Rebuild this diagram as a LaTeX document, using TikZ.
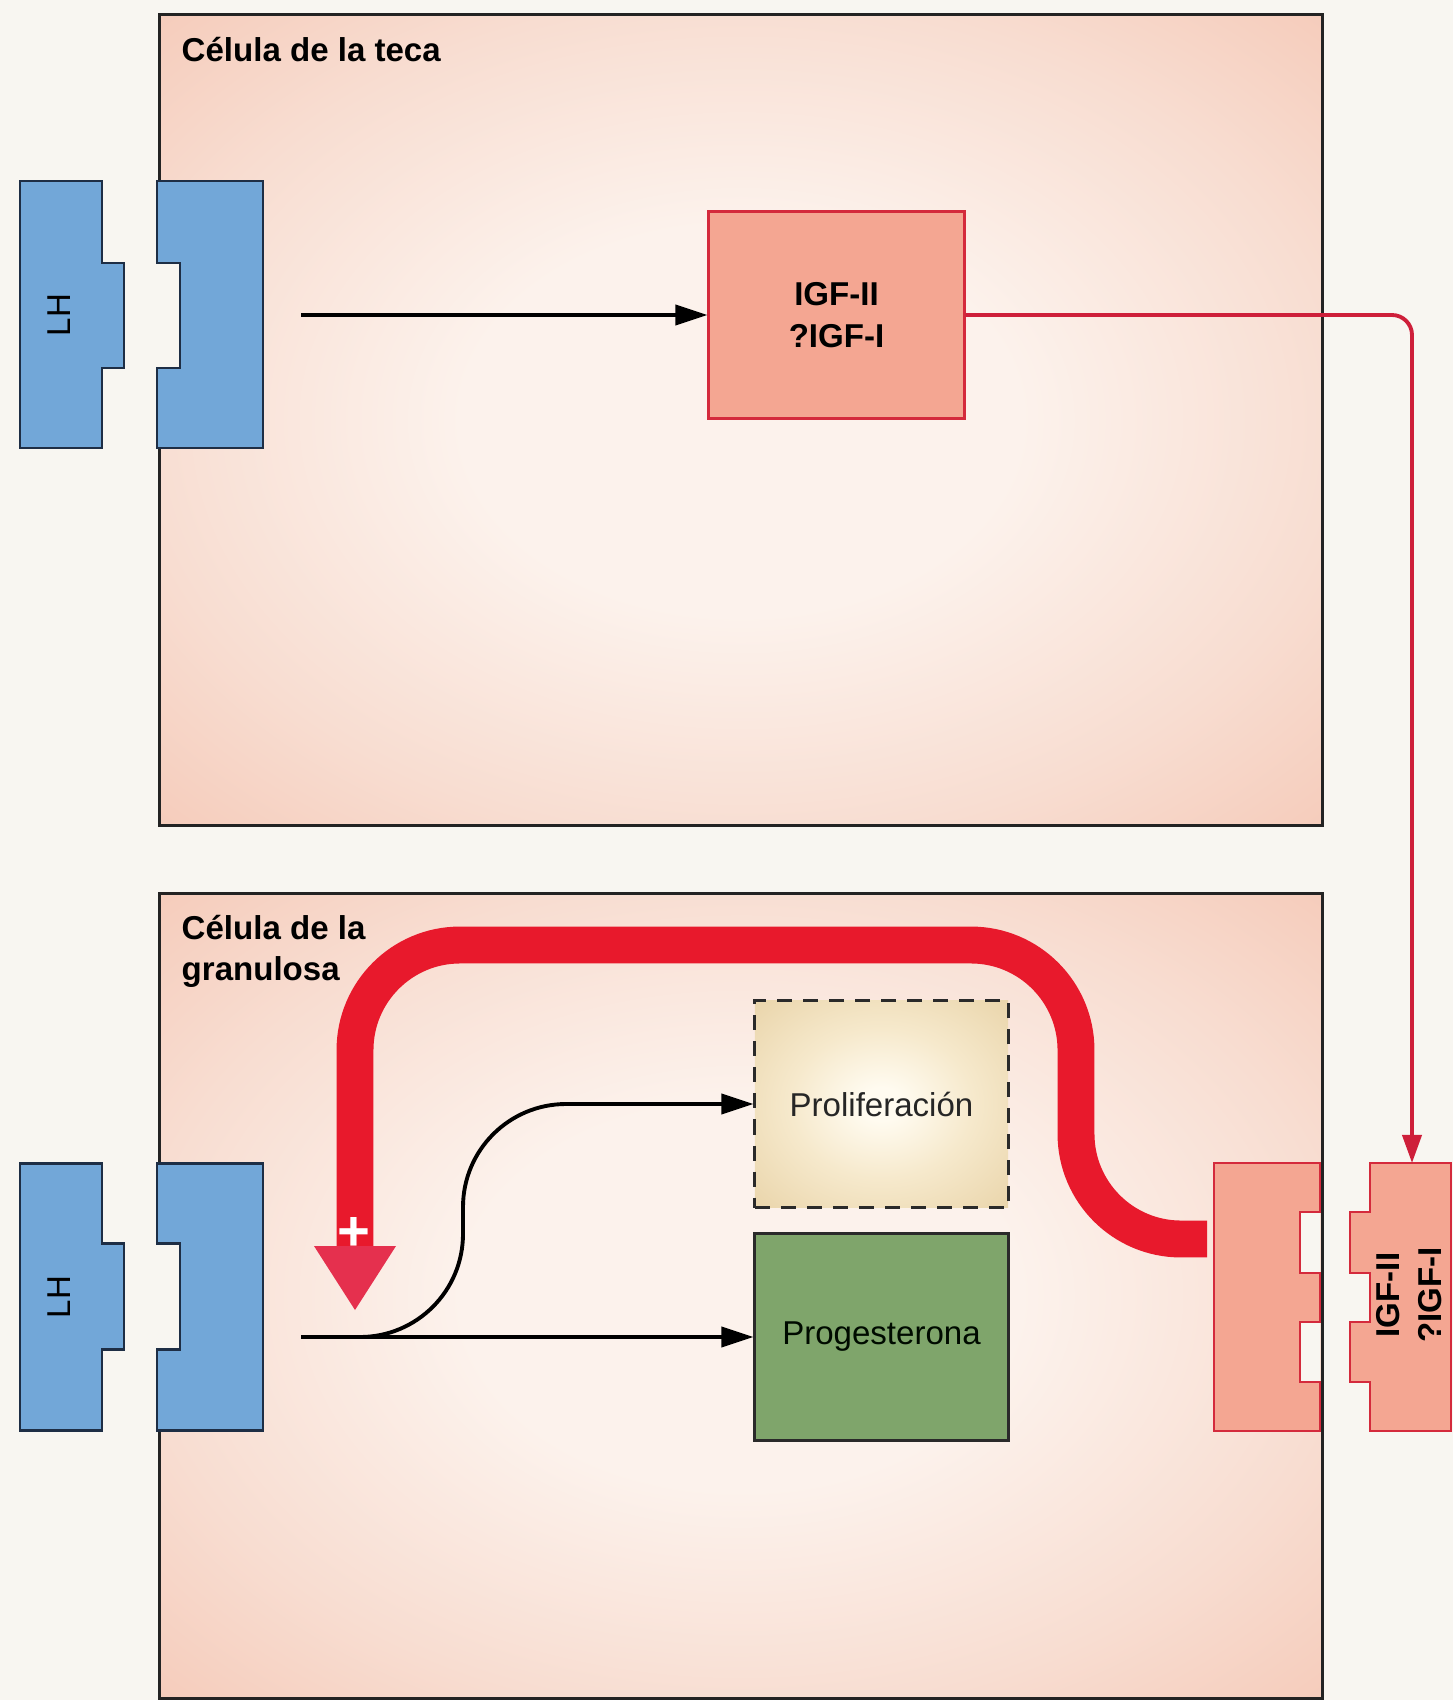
\documentclass[tikz,border=0pt]{standalone}
\usepackage{fontspec}
\setmainfont{Liberation Sans}
\usetikzlibrary{arrows.meta}
\definecolor{bg}{HTML}{F8F6F1}
\definecolor{cellin}{HTML}{FCF2EC}
\definecolor{cellmid}{HTML}{F8DDD1}
\definecolor{cellout}{HTML}{F4C4B1}
\definecolor{cellline}{HTML}{232323}
\definecolor{recblue}{HTML}{72A7D8}
\definecolor{recblueline}{HTML}{1E2E45}
\definecolor{salmon}{HTML}{F4A692}
\definecolor{salmonline}{HTML}{D42A3C}
\definecolor{thinred}{HTML}{CE1F3A}
\definecolor{bigred}{HTML}{E8192C}
\definecolor{bigredhead}{HTML}{E5304E}
\definecolor{progreen}{HTML}{7FA56B}
\definecolor{progline}{HTML}{2A2A2A}
\definecolor{prolifin}{HTML}{FFFBF0}
\definecolor{prolifmid}{HTML}{F6E9CC}
\definecolor{prolifout}{HTML}{E8D2A6}
\pgfdeclareradialshading{cellshade}{\pgfpointorigin}{color(0bp)=(cellin); color(12bp)=(cellin); color(26bp)=(cellmid); color(40bp)=(cellout); color(80bp)=(cellout)}
\pgfdeclareradialshading{prolifshade}{\pgfpointorigin}{color(0bp)=(prolifin); color(4bp)=(prolifin); color(18bp)=(prolifmid); color(38bp)=(prolifout); color(80bp)=(prolifout)}
\begin{document}
\begin{tikzpicture}[x=0.01cm,y=-0.01cm,
  every node/.style={font=\fontsize{9.4}{12}\selectfont},
  boldtext/.style={font=\fontsize{9.4}{12}\selectfont\bfseries},
  cellbox/.style={draw=cellline, line width=0.85pt, shade, shading=cellshade, inner sep=0pt, anchor=north west, minimum width=11.62cm},
  bluerec/.style={fill=recblue, draw=recblueline, line width=0.85pt},
  salmonrec/.style={fill=salmon, draw=salmonline, line width=0.7pt},
  igfbox/.style={fill=salmon, draw=salmonline, line width=0.85pt, align=center, boldtext, minimum width=2.55cm, minimum height=2.06cm},
  prolifbox/.style={draw=progline, dash pattern=on 0.15cm off 0.11cm, line width=0.85pt, shade, shading=prolifshade, minimum width=2.53cm, minimum height=2.07cm, text=black!85},
  progbox/.style={fill=progreen, draw=progline, line width=0.85pt, minimum width=2.53cm, minimum height=2.07cm, text=black!85!green!30!black},
  blackarrow/.style={draw=black, line width=1.1pt, -{Triangle[length=0.32cm,width=0.2cm]}},
  redarrow/.style={draw=thinred, line width=1.1pt, -{Triangle[length=0.28cm,width=0.19cm]}},
  bigarrow/.style={draw=bigred, line width=10.5pt},
]
\useasboundingbox (0,0) rectangle (1453,1700);
\fill[bg] (0,0) rectangle (1453,1700);

% cells
\node[cellbox, minimum height=8.11cm] (teca) at (158,13) {};
\node[cellbox, minimum height=8.05cm] (granulosa) at (158,892) {};
\node[boldtext, anchor=base west, inner sep=0pt] (tecalbl) at (181,62) {Célula de la teca};
\node[font=\fontsize{9.4}{11.5}\selectfont\bfseries, anchor=north west, inner sep=0pt, align=left] (granlbl) at (181,915) {Célula de la\\granulosa};

% LH receptor, theca cell
\filldraw[bluerec] (20,181) -- (102,181) -- (102,263) -- (124,263) -- (124,368) -- (102,368) -- (102,448) -- (20,448) -- cycle;
\fill[bg] (157,263) rectangle (180,368);
\filldraw[bluerec] (157,181) -- (263,181) -- (263,448) -- (157,448) -- (157,368) -- (180,368) -- (180,263) -- (157,263) -- cycle;
\node[rotate=90, inner sep=0pt] (lh1) at (59,315) {LH};

% LH receptor, granulosa cell
\filldraw[bluerec] (20,1163) -- (102,1163) -- (102,1243) -- (124,1243) -- (124,1349) -- (102,1349) -- (102,1430) -- (20,1430) -- cycle;
\fill[bg] (157,1243) rectangle (180,1349);
\filldraw[bluerec] (157,1163) -- (263,1163) -- (263,1430) -- (157,1430) -- (157,1349) -- (180,1349) -- (180,1243) -- (157,1243) -- cycle;
\node[rotate=90, inner sep=0pt] (lh2) at (59,1297) {LH};

% IGF receptor and ligand
\fill[bg] (1300,1212) rectangle (1320,1273);
\fill[bg] (1300,1322) rectangle (1320,1382);
\filldraw[salmonrec] (1214,1163) -- (1320,1163) -- (1320,1212) -- (1300,1212) -- (1300,1273) -- (1320,1273) -- (1320,1322) -- (1300,1322) -- (1300,1382) -- (1320,1382) -- (1320,1431) -- (1214,1431) -- cycle;
\filldraw[salmonrec] (1451,1163) -- (1370,1163) -- (1370,1212) -- (1350,1212) -- (1350,1273) -- (1370,1273) -- (1370,1322) -- (1350,1322) -- (1350,1382) -- (1370,1382) -- (1370,1431) -- (1451,1431) -- cycle;
\node[boldtext, rotate=90, align=center, inner sep=0pt] (liglbl) at (1409,1295) {IGF-II\\?IGF-I};
\coordinate (ligtop) at (1412,1163);

% IGF box in theca cell
\node[igfbox] (igf1) at (836.5,315) {IGF-II\\?IGF-I};
\coordinate (lh1out) at (301,315);
\draw[blackarrow] (lh1out) -- (igf1.west);
\draw[redarrow, rounded corners=0.2cm] (igf1.east) -| (ligtop);

% granulosa outputs
\node[prolifbox] (prolif) at (881.5,1104) {Proliferación};
\node[progbox] (prog) at (881.5,1337) {Progesterona};
\coordinate (lh2out) at (301,1337);
\draw[blackarrow] (lh2out) -- (prog.west);
\draw[blackarrow, rounded corners=1.03cm] (lh2out) -| (463,1104) -- (prolif.west);

% big red feedback arrow
\coordinate (bigstart) at (1207,1239);
\coordinate (bigend) at (355,1247);
\draw[bigarrow, rounded corners=1.05cm] (bigstart) -- (1076,1239) -- (1076,945) -- (355,945) -- (bigend);
\fill[bigredhead] (314,1246) -- (396,1246) -- (355,1310) -- cycle;
\node[text=white, font=\fontsize{16}{16}\selectfont\bfseries, inner sep=0pt] (plus) at (354,1234) {+};
\end{tikzpicture}
\end{document}
